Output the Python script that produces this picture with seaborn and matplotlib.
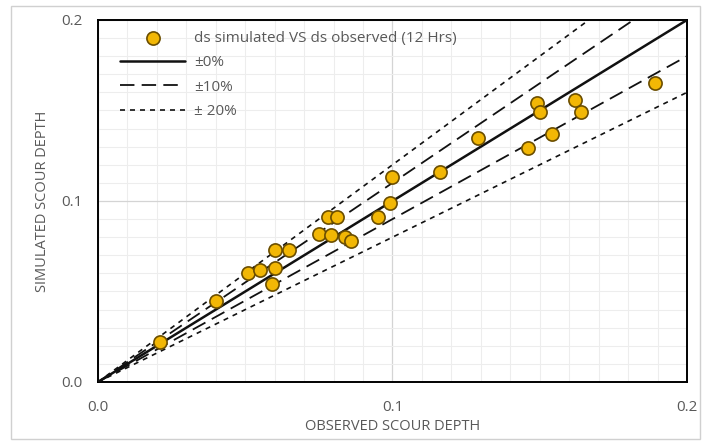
import numpy as np
import pandas as pd
import matplotlib.pyplot as plt
from matplotlib.ticker import MultipleLocator, FixedLocator
from matplotlib.patches import Rectangle
import seaborn as sns

# observed vs simulated scour depth
observed = [0.021, 0.040, 0.051, 0.055, 0.060, 0.059, 0.060, 0.065, 0.075, 0.079,
            0.078, 0.081, 0.084, 0.086, 0.095, 0.099, 0.100, 0.116, 0.129, 0.146,
            0.154, 0.149, 0.150, 0.162, 0.164, 0.189]
simulated = [0.022, 0.045, 0.060, 0.062, 0.063, 0.054, 0.073, 0.073, 0.082, 0.081,
             0.091, 0.091, 0.080, 0.078, 0.091, 0.099, 0.113, 0.116, 0.135, 0.129,
             0.137, 0.154, 0.149, 0.156, 0.149, 0.165]

# error bands
band_factors = [1.0, 1.1, 0.9, 1.2, 0.8]
band_labels = ['±0%', '±10%', None, '± 20%', None]
tick_values = [0.0, 0.1, 0.2]
tick_labels = ['0.0', '0.1', '0.2']

sns.set_style("white")
plt.rcParams['font.family'] = ['Open Sans', 'DejaVu Sans']

fig = plt.figure(figsize=(7.02, 4.43), dpi=100)
ax = fig.add_axes([0.1396, 0.1377, 0.839, 0.8172])

# frame around the whole chart
fig.patches.append(Rectangle((0.016, 0.008), 0.981, 0.978, transform=fig.transFigure,
                             fill=False, edgecolor='#d0d0d0', linewidth=1.0))

df = pd.DataFrame({'observed': observed, 'simulated': simulated})
sns.scatterplot(data=df, x='observed', y='simulated', ax=ax, s=90,
                color='#f2b705', edgecolor='#6b4e00', linewidth=1.2, zorder=4,
                label='ds simulated VS ds observed (12 Hrs)')

xs = np.array([0.0, 0.2])
styles = {1.0: ('-', 1.8), 1.1: ((0, (8, 4)), 1.3), 0.9: ((0, (8, 4)), 1.3),
          1.2: ((0, (3, 3)), 1.2), 0.8: ((0, (3, 3)), 1.2)}
for f, lab in zip(band_factors, band_labels):
    ls, lw = styles[f]
    ax.plot(xs, xs * f, color='#111111', linestyle=ls, linewidth=lw,
            label=lab if lab else '_nolegend_', zorder=3)

ax.set_xlim(0, 0.2)
ax.set_ylim(0, 0.2)
ax.xaxis.set_major_locator(FixedLocator(tick_values))
ax.yaxis.set_major_locator(FixedLocator(tick_values))
ax.xaxis.set_minor_locator(MultipleLocator(0.01))
ax.yaxis.set_minor_locator(MultipleLocator(0.01))
ax.set_xticklabels(tick_labels)
ax.set_yticklabels(tick_labels)
ax.grid(which='major', color='#d4d4d4', linewidth=0.9, zorder=0)
ax.grid(which='minor', color='#ededed', linewidth=0.8, zorder=0)
ax.set_axisbelow(True)

for sp in ax.spines.values():
    sp.set_color('black')
    sp.set_linewidth(1.4)
ax.tick_params(which='major', direction='inout', length=10, width=1.4,
               colors='black', labelcolor='#595959', labelsize=11)
ax.tick_params(which='minor', direction='in', length=5, width=1.2, colors='black')
ax.tick_params(axis='x', which='major', pad=8)
ax.tick_params(axis='y', which='major', pad=6)

ax.set_xlabel('OBSERVED SCOUR DEPTH', color='#595959', fontsize=10.5, labelpad=3)
ax.set_ylabel('SIMULATED SCOUR DEPTH', color='#595959', fontsize=10.5, labelpad=8)

leg = ax.legend(loc='upper left', bbox_to_anchor=(0.02, 1.0), frameon=False,
                fontsize=11, handlelength=4.2, labelspacing=0.62,
                borderaxespad=0.4, handletextpad=0.6, borderpad=0.3)
for t in leg.get_texts():
    t.set_color('#595959')

fig.savefig('out.png', dpi=100)
